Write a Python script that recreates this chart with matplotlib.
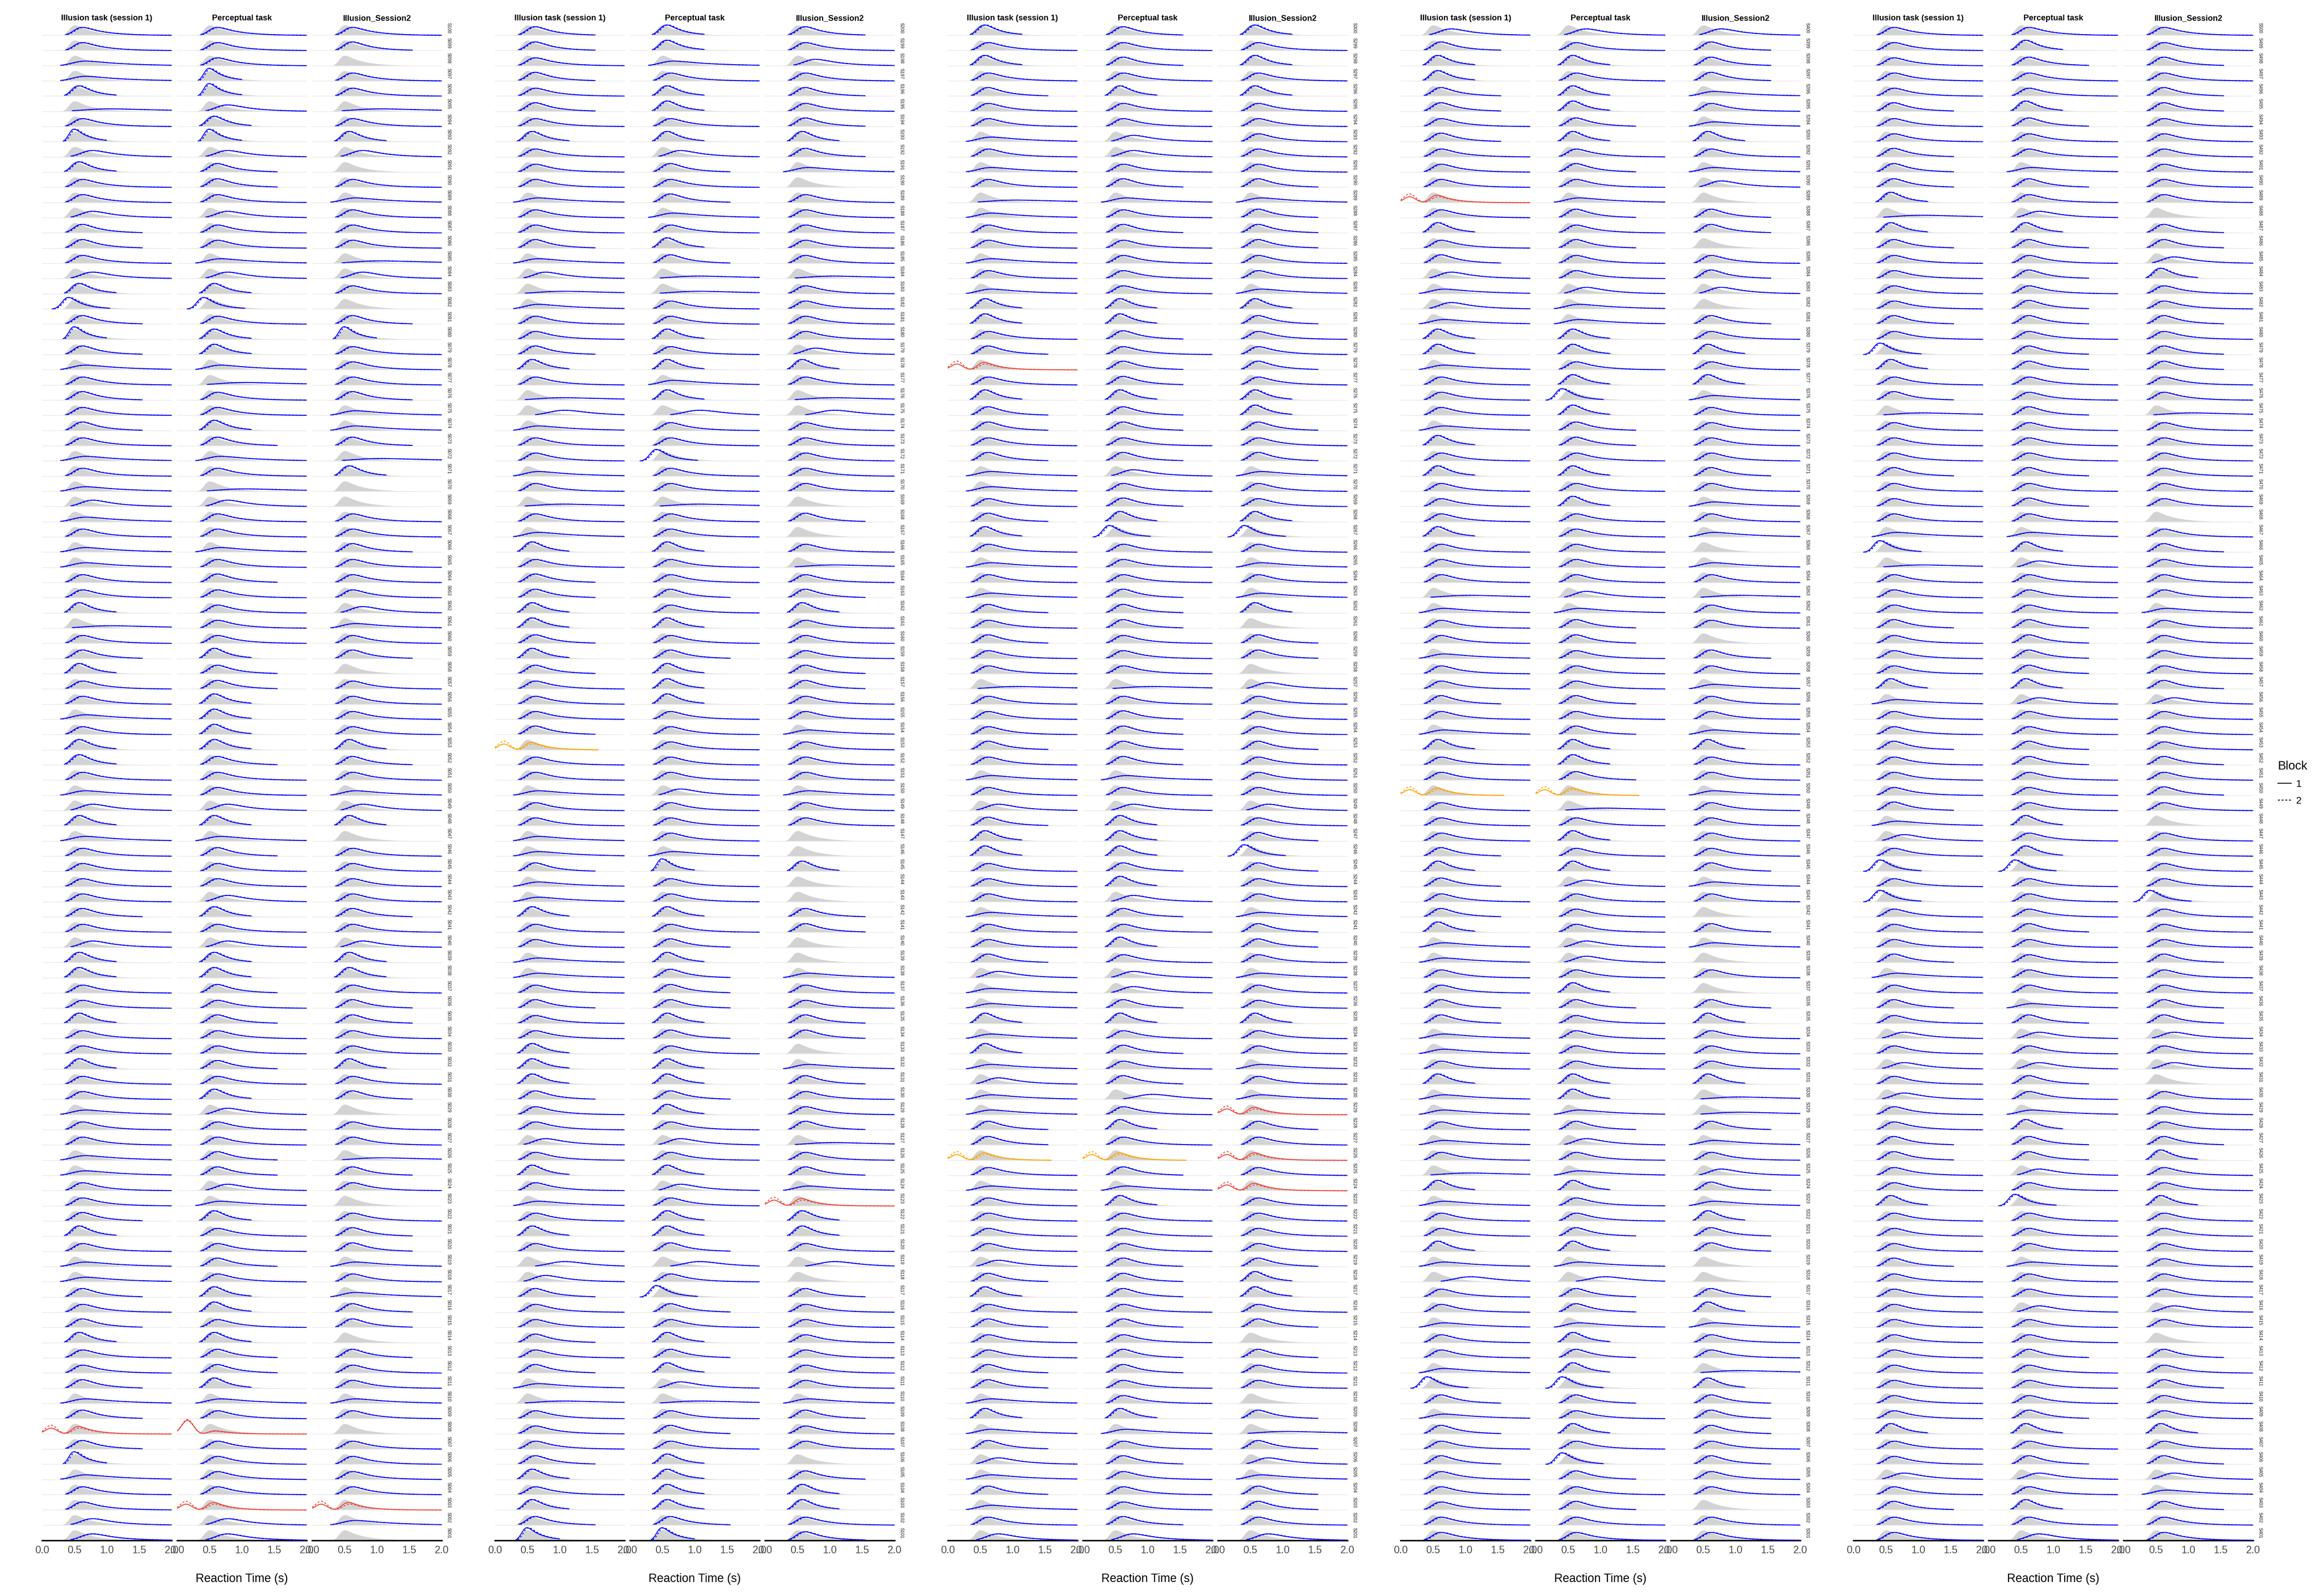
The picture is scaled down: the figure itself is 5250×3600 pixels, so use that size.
import math

import numpy as np
import matplotlib
matplotlib.use("Agg")
import matplotlib.pyplot as plt
import matplotlib.transforms as mtransforms
from matplotlib.lines import Line2D

plt.rcParams["font.family"] = ["Liberation Sans", "DejaVu Sans"]

TASKS = ["Illusion task (session 1)", "Perceptual task", "Illusion_Session2"]
XTICKS = [0.0, 0.5, 1.0, 1.5, 2.0]
XTICK_LABELS = ["0.0", "0.5", "1.0", "1.5", "2.0"]

# One shape code per participant and task, top row first (S100..S001, S200..S101, ...).
# n normal, m ends ~1.5 s, s ends ~1.1 s, p sharp & early, e very early, w wide/low,
# l late peak, v very late, f flat, r/R red (fast guesses), o orange, . no data
ILLUSION_S1 = [
    "nnwwsfnpls" "nnlmmnlsem" "pmwnmnmnwn" "wlwnwwnnsf" "nmsnnwnssn"
    "wlswnnnnmn" "lssnnsnnsn" "nwnnwwnnms" "nwwmnmsnnm" "wmrmpwnnll",
    "mmnmnmnsnn" "nwnnmwlfwn" "nmsnfvwnnw" "nfnwsnmmss" "msmnnnmonn"
    "wnnwwmwwsn" "nwwnmnnsss" "mnnlnsnwns" "nvlmnnmnmw" "fnnnmsnsmp",
    "snsnmnnwnw" "nfwnnwnwss" "nmrnsmmnmw" "wnmsnwnwmn" "mnnfnnnmnw"
    "nlmssnnnwn" "nmlwwswswl" "wwmmonwnnn" "nlmsnmnnmm" "wswmlwmwnl",
    "lmssmmnmnn" "nrnsnmlwlw" "sswnnnwsns" "nnnsnnnfwn" "nwnnmnwsnn"
    "onnnmsmnms" "wwnnmmwwns" "wwnwnfswnn" "swvnnwnnwe" "mwmnmnnnnn",
    "nnnnnmnnmm" "msfsmnnnnm" "nesnmfnnnm" "nnnwefnnnm" "nnnswnnmnn"
    "nmwlnenenn" "nmwnmnlnln" "lnnmmnnsnn" "nmnnnnnnnn" "nnsnnlnmnn",
]
PERCEPTUAL = [
    "nnnpplsplm" "mnlnnwlsen" "sswfnnsmwn" "flnnwnmnnn" "nsmmssssmn"
    "nlswmnnlsn" "lssmnmnnmn" "slnnmmlwsn" "nmnssnsmms" "wnRnnnnrll",
    "sswnssnslm" "nmwnsmffnn" "snswsvnnen" "nfnnsnnmns" "nmsssnnnnn"
    "lnnnwpnnsn" "msmmmsmnss" "msnlnslnss" "mvnemnsmsl" "fnmnssssmp",
    "mnmnsnnlln" "mwnmnnnnss" "mnmmsmmnml" "nmsennnmmm" "nnnfnmmmmw"
    "nlsssmslmn" "snllmsnmnm" "vnsnomwsnn" "nmmmnmnmmn" "nswnmnnnml",
    "lnsnssmsnm" "nwmnmnnlww" "ssnsesmmns" "nsnnnnnlwm" "mnnnmnmssm"
    "ofnsnslnnn" "llnsmnnnns" "swmlnwsnnm" "swvmmwsmse" "mnsnemnmnn",
    "nsmnnsmnnw" "mnlsmnmnmm" "nmmnnmnnnm" "nmnwslnnnm" "mmmslnnmmn"
    "nnsnsennnm" "nnnnwmlnlm" "nwsmmlnenn" "nwnnlnnmnn" "nmsnmlnsnl",
]
ILLUSION_S2 = [
    "nm.nnfnsl." "nwnnnfln.m" "pnnnmwwmfs" "..nnmnnnlw" "nm.nnnnsmn"
    "wls.nnnnmn" "lssnmmnnsn" "m.nnfmn.nm" "mwnwmm.mnn" "wn.nnnnrw.",
    "mnlnmnmsmw" ".nnnnnfnnn" "nlsnfvnnnn" "n.m.nfnmsn" "nnmmnnwnnn"
    "wnn..s..mm" "..wnnmm.wm" "nnmfnmwrss" "nv.mnnnnnn" "wmnn.mssnm",
    "snsnsnnnnn" "mwmmmnnwsm" "nnmnssmnmw" "nnsenwnws." "mm.lnnnmnn"
    "nlnmemnnwm" "mnwnnsnnwn" "wrmnrnrnnn" "nmssnm.mnn" ".mfmlwmmnl",
    "lmmmwnwsnw" "l.mm.nml.m" "nsnswnnnnm" "nwnw.wnfnn" ".mnwnnwsnn"
    "wnnnnmwn.m" "w.n.msnnns" "ffmwnlmwsm" "m..mswnnfs" "mmmnmnn.nn",
    "nnmnmmnnnn" "nn.mmlsnnm" "nmmnnfnnnn" "nn.nmnnnwn" "nnnmlnnnmn"
    "mn.nnnnenn" "nmnnmmlnl." "nnnmsnnsnn" "nnnnln.mnm" "nnsnmlwmnn",
]
TASK_CODES = [ILLUSION_S1, PERCEPTUAL, ILLUSION_S2]

# ex-Gaussian shape per code: mu, sigma, tau, first RT, last RT (seconds)
SHAPES = {
    "n": (0.50, 0.090, 0.34, 0.36, 2.0),
    "m": (0.50, 0.090, 0.30, 0.36, 1.55),
    "s": (0.47, 0.080, 0.24, 0.34, 1.15),
    "p": (0.42, 0.055, 0.22, 0.32, 1.0),
    "e": (0.32, 0.070, 0.22, 0.15, 1.05),
    "w": (0.48, 0.140, 0.60, 0.28, 2.0),
    "l": (0.62, 0.130, 0.38, 0.44, 2.0),
    "v": (0.87, 0.190, 0.42, 0.62, 2.0),
    "f": (0.68, 0.260, 1.10, 0.46, 2.0),
}
GROUP_SHAPE = (0.42, 0.058, 0.29)

BLUE = "#0000FF"
RED = "#F04438"
ORANGE = "#FFA500"
GRAY_FILL = "#D3D3D3"

# layout in output pixels
W, H = 5250, 3600
PANEL_LEFT = [95, 1118, 2141, 3164, 4187]
COL_STEP = 305
COL_W = 293
ROWS_TOP = 45.7
ROWS_BOTTOM = 3479.0

_erfc = np.vectorize(math.erfc)


def exgauss(x, mu, sigma, tau):
    lam = 1.0 / tau
    arg = (mu + lam * sigma ** 2 - x) / (math.sqrt(2.0) * sigma)
    return 0.5 * lam * np.exp(0.5 * lam * (2 * mu + lam * sigma ** 2 - 2 * x)) * _erfc(arg)


def gauss(x, m, s):
    return np.exp(-0.5 * ((x - m) / s) ** 2) / (s * math.sqrt(2 * math.pi))


def cell_curve(code, block):
    if code in "ro":
        end = 2.0 if code == "r" else 1.6
        x = np.linspace(0.0, end, 220)
        w_fast = 0.3 if block == 1 else 0.45
        y = w_fast * gauss(x, 0.14, 0.09) + (1 - w_fast) * exgauss(x, 0.45 + 0.02 * block, 0.07, 0.25)
        return x, y
    if code == "R":
        x = np.linspace(0.0, 2.0, 220)
        w_fast = 0.7 if block == 1 else 0.75
        y = w_fast * gauss(x, 0.16, 0.09) + (1 - w_fast) * exgauss(x, 0.5, 0.07, 0.25)
        return x, y
    mu, sig, tau, start, end = SHAPES[code]
    if block == 2:
        mu += 0.025
        start += 0.03
    x = np.linspace(start, end, 220)
    return x, exgauss(x, mu, sig, tau)


xg = np.linspace(0.0, 2.0, 300)
group_density = exgauss(xg, *GROUP_SHAPE)
scale = 0.68 / group_density.max()

fig = plt.figure(figsize=(W / 300, H / 300), dpi=300)
bottom = 1 - ROWS_BOTTOM / H
height = (ROWS_BOTTOM - ROWS_TOP) / H

for p, left in enumerate(PANEL_LEFT):
    ids = [100 * (p + 1) - i for i in range(100)]
    for c, task in enumerate(TASKS):
        codes = TASK_CODES[c][p]
        assert len(codes) == 100, (task, p, len(codes))
        ax = fig.add_axes([(left + c * COL_STEP) / W, bottom, COL_W / W, height])
        ax.set_xlim(0, 2)
        ax.set_ylim(0, 100)
        strip = mtransforms.blended_transform_factory(ax.transAxes, ax.transData)
        for i, code in enumerate(codes):
            base = 99 - i
            ax.fill_between(xg, base, base + group_density * scale, color=GRAY_FILL, lw=0, zorder=1)
            ax.plot([0, 2], [base, base], color="#EBEBEB", lw=0.4, zorder=1)
            if c == 2:
                ax.text(1.0546, base + 0.5, f"S{ids[i]:03d}", transform=strip, rotation=270,
                        ha="center", va="center", fontsize=2.5, color="#1A1A1A")
            if code == ".":
                continue
            color = RED if code in "rR" else ORANGE if code == "o" else BLUE
            for block, ls in ((1, "-"), (2, (0, (2, 2)))):
                x, y = cell_curve(code, block)
                ax.plot(x, base + np.minimum(y * scale, 0.97), color=color, lw=0.5,
                        ls=ls, zorder=3, solid_capstyle="butt")
        for side in ("top", "right", "left"):
            ax.spines[side].set_visible(False)
        ax.spines["bottom"].set_color("black")
        ax.spines["bottom"].set_linewidth(0.8)
        ax.set_yticks([])
        ax.set_xticks(XTICKS)
        ax.set_xticklabels(XTICK_LABELS)
        ax.tick_params(axis="x", length=0, pad=2.6, labelsize=5.6, labelcolor="#4D4D4D")
        ax.patch.set_alpha(0)
        ax.text(0.5, 1.0011, task, transform=ax.transAxes, ha="center", va="center",
                fontsize=4.4, fontweight="bold")
    fig.text((left + 451.5) / W, 1 - 3566 / H, "Reaction Time (s)", ha="center", va="center", fontsize=6.4)

handles = [Line2D([], [], color="black", lw=0.5, ls="-"),
           Line2D([], [], color="black", lw=0.5, ls=(0, (2, 2)))]
fig.legend(handles, ["1", "2"], title="Block", loc="upper left",
           bbox_to_anchor=(5146 / W, 1 - 1718 / H), frameon=False, fontsize=5.4,
           title_fontsize=6.6, handlelength=1.35, handletextpad=0.45, labelspacing=0.75,
           borderpad=0, borderaxespad=0, alignment="left")

fig.savefig("out.png", dpi=300)
